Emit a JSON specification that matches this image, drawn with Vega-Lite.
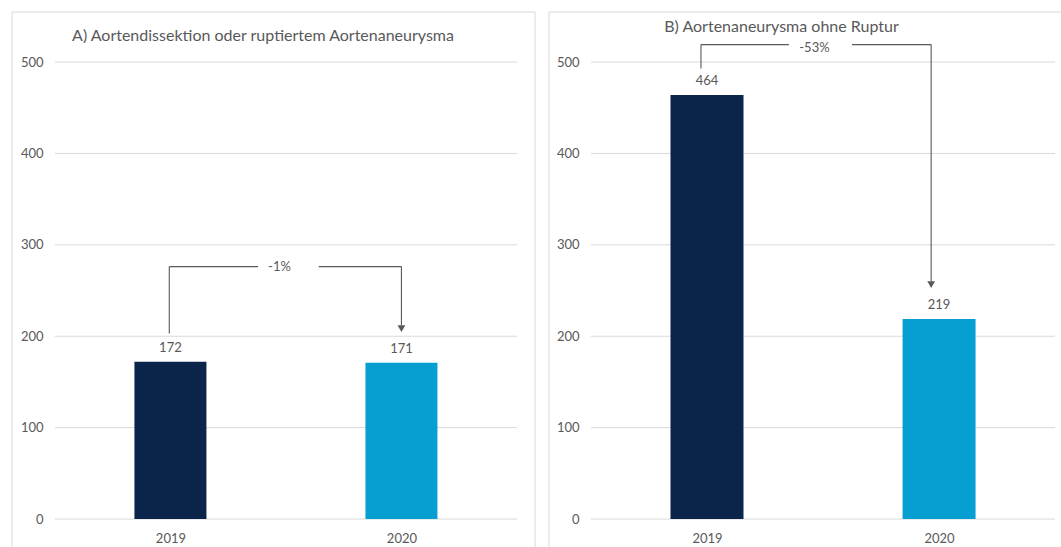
{
  "$schema": "https://vega.github.io/schema/vega-lite/v6.json",
  "padding": {"left": 10.5, "top": 10.5, "right": 0, "bottom": 0},
  "background": "white",
  "spacing": 12,
  "resolve": {"scale": {"x": "independent", "y": "independent", "color": "independent"}},
  "config": {
    "view": {"stroke": "#d9d9d9", "strokeWidth": 1},
    "font": "Lato",
    "axis": {"labelFont": "Lato", "labelColor": "#595959", "labelFontSize": 13, "grid": false, "ticks": false, "domain": false, "title": null},
    "title": {"font": "Lato", "fontSize": 16, "fontWeight": "normal", "color": "#595959", "anchor": "middle", "frame": "group", "baseline": "alphabetic"}
  },
  "datasets": {
    "barsA": [
      {"year": "2019", "pos": 0.5, "value": 172},
      {"year": "2020", "pos": 1.5, "value": 171}
    ],
    "barsB": [
      {"year": "2019", "pos": 0.5, "value": 464},
      {"year": "2020", "pos": 1.5, "value": 219}
    ],
    "grid": [{"v": 0}, {"v": 100}, {"v": 200}, {"v": 300}, {"v": 400}, {"v": 500}],
    "segA": [
      {"x": 0.495, "x2": 0.495, "y": 202.9, "y2": 276.2},
      {"x": 0.495, "x2": 0.879, "y": 276.2, "y2": 276.2},
      {"x": 1.142, "x2": 1.5, "y": 276.2, "y2": 276.2},
      {"x": 1.5, "x2": 1.5, "y": 276.2, "y2": 212}
    ],
    "segB": [
      {"x": 0.474, "x2": 0.474, "y": 492.9, "y2": 519.1},
      {"x": 0.474, "x2": 0.853, "y": 519.1, "y2": 519.1},
      {"x": 1.125, "x2": 1.466, "y": 519.1, "y2": 519.1},
      {"x": 1.466, "x2": 1.466, "y": 519.1, "y2": 260}
    ],
    "arrowA": [{"x": 1.5, "y": 208.3, "label": "-1%", "lx": 0.972, "ly": 275.6}],
    "arrowB": [{"x": 1.466, "y": 256.5, "label": "-53%", "lx": 0.963, "ly": 515.2}]
  },
  "hconcat": [
    {
      "width": 523,
      "height": 540,
      "title": {"text": "A) Aortendissektion oder ruptiertem Aortenaneurysma", "offset": -32, "dx": -10},
      "layer": [
        {
          "data": {"name": "grid"},
          "mark": {"type": "rule", "color": "#d9d9d9", "strokeWidth": 1},
          "encoding": {
            "y": {"field": "v", "type": "quantitative", "scale": {"domain": [-35.5, 555.3], "nice": false, "zero": false, "padding": 0},
                  "axis": {"values": [0, 100, 200, 300, 400, 500], "offset": -43.5, "labelPadding": 12, "orient": "left"}},
            "x": {"datum": 0, "type": "quantitative", "scale": {"domain": [-0.188, 2.076], "nice": false, "zero": false, "padding": 0},
                  "axis": {"values": [0.5, 1.5], "labelExpr": "datum.value < 1 ? '2019' : '2020'", "offset": -33, "labelPadding": 14}},
            "x2": {"datum": 2}
          }
        },
        {
          "data": {"name": "barsA"},
          "mark": {"type": "bar", "width": 72},
          "encoding": {
            "x": {"field": "pos", "type": "quantitative"},
            "y": {"field": "value", "type": "quantitative"},
            "y2": {"datum": 0},
            "color": {"field": "year", "type": "nominal", "scale": {"domain": ["2019", "2020"], "range": ["#0a244a", "#079fd1"]}, "legend": null}
          }
        },
        {
          "data": {"name": "barsA"},
          "mark": {"type": "text", "baseline": "middle", "dy": -14, "fontSize": 13, "color": "#595959"},
          "encoding": {
            "x": {"field": "pos", "type": "quantitative"},
            "y": {"field": "value", "type": "quantitative"},
            "text": {"field": "value", "type": "quantitative"}
          }
        },
        {
          "data": {"name": "segA"},
          "mark": {"type": "rule", "color": "#595959", "strokeWidth": 1.1},
          "encoding": {
            "x": {"field": "x", "type": "quantitative"},
            "x2": {"field": "x2"},
            "y": {"field": "y", "type": "quantitative"},
            "y2": {"field": "y2"}
          }
        },
        {
          "data": {"name": "arrowA"},
          "mark": {"type": "point", "shape": "triangle-down", "filled": true, "size": 60, "color": "#595959", "opacity": 1},
          "encoding": {
            "x": {"field": "x", "type": "quantitative"},
            "y": {"field": "y", "type": "quantitative"}
          }
        },
        {
          "data": {"name": "arrowA"},
          "mark": {"type": "text", "baseline": "middle", "fontSize": 13, "color": "#595959"},
          "encoding": {
            "x": {"field": "lx", "type": "quantitative"},
            "y": {"field": "ly", "type": "quantitative"},
            "text": {"field": "label"}
          }
        }
      ]
    },
    {
      "width": 514,
      "height": 540,
      "title": {"text": "B) Aortenaneurysma ohne Ruptur", "offset": -23.5, "dx": -24},
      "layer": [
        {
          "data": {"name": "grid"},
          "mark": {"type": "rule", "color": "#d9d9d9", "strokeWidth": 1},
          "encoding": {
            "y": {"field": "v", "type": "quantitative", "scale": {"domain": [-35.5, 555.3], "nice": false, "zero": false, "padding": 0},
                  "axis": {"values": [0, 100, 200, 300, 400, 500], "offset": -42.5, "labelPadding": 12, "orient": "left"}},
            "x": {"datum": 0, "type": "quantitative", "scale": {"domain": [-0.183, 2.032], "nice": false, "zero": false, "padding": 0},
                  "axis": {"values": [0.5, 1.5], "labelExpr": "datum.value < 1 ? '2019' : '2020'", "offset": -33, "labelPadding": 14}},
            "x2": {"datum": 2}
          }
        },
        {
          "data": {"name": "barsB"},
          "mark": {"type": "bar", "width": 73},
          "encoding": {
            "x": {"field": "pos", "type": "quantitative"},
            "y": {"field": "value", "type": "quantitative"},
            "y2": {"datum": 0},
            "color": {"field": "year", "type": "nominal", "scale": {"domain": ["2019", "2020"], "range": ["#0a244a", "#079fd1"]}, "legend": null}
          }
        },
        {
          "data": {"name": "barsB"},
          "mark": {"type": "text", "baseline": "middle", "dy": -14, "fontSize": 13, "color": "#595959"},
          "encoding": {
            "x": {"field": "pos", "type": "quantitative"},
            "y": {"field": "value", "type": "quantitative"},
            "text": {"field": "value", "type": "quantitative"}
          }
        },
        {
          "data": {"name": "segB"},
          "mark": {"type": "rule", "color": "#595959", "strokeWidth": 1.1},
          "encoding": {
            "x": {"field": "x", "type": "quantitative"},
            "x2": {"field": "x2"},
            "y": {"field": "y", "type": "quantitative"},
            "y2": {"field": "y2"}
          }
        },
        {
          "data": {"name": "arrowB"},
          "mark": {"type": "point", "shape": "triangle-down", "filled": true, "size": 60, "color": "#595959", "opacity": 1},
          "encoding": {
            "x": {"field": "x", "type": "quantitative"},
            "y": {"field": "y", "type": "quantitative"}
          }
        },
        {
          "data": {"name": "arrowB"},
          "mark": {"type": "text", "baseline": "middle", "fontSize": 13, "color": "#595959"},
          "encoding": {
            "x": {"field": "lx", "type": "quantitative"},
            "y": {"field": "ly", "type": "quantitative"},
            "text": {"field": "label"}
          }
        }
      ]
    }
  ]
}
